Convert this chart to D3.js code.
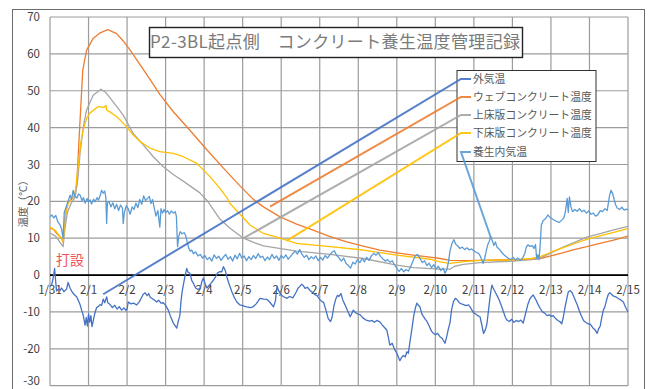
<!DOCTYPE html>
<html>
<head>
<meta charset="utf-8">
<script src="https://cdn.jsdelivr.net/npm/d3@7"></script>
<style>
  body { margin: 0; background: #fff; }
  svg { display: block; font-family: "Noto Sans CJK JP", "Noto Sans", sans-serif; }
</style>
</head>
<body>
<div id="chart"></div>
<script>
// time is in days from 1/31 0:00, values in °C

const dayLabels = ["1/31","2/1","2/2","2/3","2/4","2/5","2/6","2/7","2/8","2/9","2/10","2/11","2/12","2/13","2/14","2/15"]
const tempTicks = [-30,-20,-10,0,10,20,30,40,50,60,70]
const seriesNames = ["外気温","ウェブコンクリート温度","上床版コンクリート温度","下床版コンクリート温度","養生内気温"]
const seriesColors = ["#4472C4","#ED7D31","#A5A5A5","#FFC000","#5B9BD5"]

const outdoorTemp = [[0,-3],[0.04,-2.7],[0.08,-1],[0.12,1.8],[0.15,-2],[0.17,-4.3],[0.22,-3.8],[0.26,-4.2],[0.3,-3.5],[0.36,-4.5],[0.43,-3.8],[0.47,-2],[0.52,-3.5],[0.57,-4.5],[0.62,-5.2],[0.69,-5.9],[0.74,-7],[0.78,-8],[0.82,-9.5],[0.86,-10.8],[0.91,-13.6],[0.94,-11.5],[0.97,-13.8],[1.0,-10.5],[1.03,-12.8],[1.06,-11],[1.09,-14],[1.12,-12.5],[1.16,-10.5],[1.21,-8.8],[1.26,-8.5],[1.3,-8.0],[1.34,-8.2],[1.38,-6.5],[1.42,-7.5],[1.47,-5.9],[1.5,-7.5],[1.56,-8],[1.62,-8.8],[1.68,-8.2],[1.74,-9.2],[1.8,-8.6],[1.86,-9.5],[1.92,-8.9],[1.97,-9.6],[2.0,-9.2],[2.03,-7.3],[2.1,-7.8],[2.17,-7.6],[2.25,-8.1],[2.32,-7.2],[2.38,-6],[2.42,-5.2],[2.47,-4.8],[2.52,-5.6],[2.56,-5.0],[2.6,-6],[2.66,-6.4],[2.72,-6.9],[2.77,-7.3],[2.82,-6.8],[2.88,-7.6],[2.94,-7.5],[3.0,-8.2],[3.07,-9.5],[3.12,-11],[3.16,-12],[3.2,-13],[3.25,-13.8],[3.29,-14.4],[3.33,-12.5],[3.37,-11],[3.4,-7],[3.43,-4.5],[3.46,-2.7],[3.5,-0.5],[3.55,1.8],[3.58,0.8],[3.63,0.5],[3.68,-1.5],[3.72,-2.2],[3.78,-3.5],[3.84,-3.9],[3.9,-3.5],[3.94,-1.8],[3.98,-0.8],[4.03,-2.5],[4.07,-3.5],[4.12,-2.9],[4.18,-2.2],[4.24,-1.4],[4.3,-0.4],[4.35,0.6],[4.4,0.9],[4.46,0.9],[4.5,2.3],[4.55,1.2],[4.59,-0.5],[4.65,-2.5],[4.72,-4.5],[4.78,-6],[4.85,-7.3],[4.93,-8.1],[5.0,-8.3],[5.1,-8.6],[5.2,-8.8],[5.27,-8.6],[5.35,-7.8],[5.45,-6.3],[5.55,-6.5],[5.63,-6.6],[5.7,-7.3],[5.8,-8.6],[5.85,-7],[5.89,-3.2],[5.94,-4.3],[6.0,-5.4],[6.05,-5.8],[6.15,-6.3],[6.22,-5.8],[6.3,-6.2],[6.38,-4.8],[6.44,-3.5],[6.49,-3],[6.53,-2.5],[6.57,-2.8],[6.62,-3.6],[6.68,-3.3],[6.75,-4.2],[6.82,-4.8],[6.88,-5.3],[6.93,-5.6],[7.0,-6.6],[7.06,-7.2],[7.1,-7.4],[7.16,-9.5],[7.22,-11.8],[7.28,-12.6],[7.32,-11.5],[7.37,-8.3],[7.42,-6.4],[7.46,-5.5],[7.5,-5.8],[7.55,-5.0],[7.6,-6.8],[7.66,-8.2],[7.72,-9.6],[7.79,-11.3],[7.84,-10.2],[7.87,-9.5],[7.93,-10.2],[8.0,-10.6],[8.05,-10.8],[8.12,-11.6],[8.2,-12.2],[8.3,-12.5],[8.36,-12.3],[8.42,-12.8],[8.48,-12.3],[8.56,-12.7],[8.62,-13.5],[8.68,-14.2],[8.74,-14.9],[8.78,-16.8],[8.82,-19],[8.88,-18.5],[8.95,-20.3],[9.0,-21.2],[9.04,-22.2],[9.08,-23.2],[9.12,-22.4],[9.17,-21.8],[9.22,-22.2],[9.26,-20.8],[9.3,-21.2],[9.35,-17.5],[9.39,-14.8],[9.44,-11],[9.48,-9],[9.52,-7.6],[9.56,-8.2],[9.6,-8.6],[9.65,-10.5],[9.69,-11.2],[9.74,-12.0],[9.78,-12.5],[9.84,-13.8],[9.9,-15.2],[9.95,-15.8],[10.0,-16.2],[10.06,-15.8],[10.12,-16.7],[10.18,-17.2],[10.25,-18.5],[10.3,-16.5],[10.34,-14.5],[10.38,-13],[10.42,-9.5],[10.47,-7.2],[10.52,-6.3],[10.56,-6.6],[10.62,-7.5],[10.68,-7.8],[10.73,-8.0],[10.8,-8.3],[10.86,-8.1],[10.9,-8.6],[10.95,-9.5],[10.99,-10.2],[11.04,-10.5],[11.1,-11],[11.16,-11.3],[11.2,-13.2],[11.25,-15.8],[11.3,-14.8],[11.34,-13.2],[11.38,-9.5],[11.42,-6],[11.45,-3.8],[11.47,-2.7],[11.5,-3.5],[11.55,-4.5],[11.6,-5.5],[11.66,-6.8],[11.72,-8.5],[11.77,-10],[11.82,-11.5],[11.86,-12.2],[11.92,-12.6],[11.98,-12.0],[12.04,-12.8],[12.1,-12.3],[12.16,-12.6],[12.22,-12.2],[12.28,-13],[12.34,-10.5],[12.4,-8],[12.46,-6.3],[12.5,-5.8],[12.54,-5.4],[12.6,-6.5],[12.66,-7.8],[12.72,-9],[12.78,-10],[12.84,-10.3],[12.9,-11],[12.96,-10.8],[13.02,-11.2],[13.06,-11],[13.12,-11.8],[13.18,-12.3],[13.24,-12.7],[13.28,-13.2],[13.32,-11.5],[13.37,-8.5],[13.42,-6],[13.45,-4.6],[13.5,-4.2],[13.55,-4.8],[13.6,-6],[13.64,-7],[13.68,-8],[13.74,-9.8],[13.8,-11.3],[13.85,-12.4],[13.9,-12.8],[13.96,-13.2],[14.02,-13.3],[14.08,-14.2],[14.14,-14.8],[14.2,-15.8],[14.24,-14.5],[14.28,-13.8],[14.32,-11.5],[14.36,-9.5],[14.4,-8.6],[14.45,-6.5],[14.49,-5.2],[14.53,-4.8],[14.58,-5.3],[14.64,-5.8],[14.7,-6.0],[14.76,-6.4],[14.82,-6.8],[14.88,-7.3],[14.92,-8.3],[14.96,-9.2],[15,-10]]

const webTemp = [[0,12.8],[0.1,12.3],[0.2,11.0],[0.3,10.0],[0.34,9.0],[0.38,14],[0.42,18],[0.47,19.8],[0.55,20.5],[0.64,21.5],[0.69,24],[0.72,30],[0.75,36],[0.78,42],[0.85,55.6],[0.95,61],[1.12,64.2],[1.3,65.7],[1.5,66.6],[1.73,65.5],[1.9,63.5],[2.08,61],[2.34,57],[2.6,53],[2.85,49],[3.2,44.3],[3.63,39.3],[4.07,34],[4.5,29],[4.93,24.2],[5.27,20.6],[5.54,18.5],[5.97,15.8],[6.4,13.8],[6.83,12.2],[7.25,10.5],[7.7,9.0],[8.1,7.9],[8.56,6.8],[9.0,6.0],[9.43,5.4],[9.86,4.9],[10.12,4.5],[10.38,4.0],[10.8,3.9],[11.2,4.0],[11.6,4.1],[12.2,4.2],[12.5,4.3],[12.72,4.5],[13.0,5.2],[13.3,6.0],[13.6,6.9],[13.93,7.7],[14.3,8.7],[14.6,9.4],[15,10.6]]

const upperSlabTemp = [[0,11.4],[0.15,10.5],[0.25,9],[0.34,7.7],[0.38,12],[0.45,17],[0.55,19.5],[0.65,21],[0.72,26],[0.78,33],[0.86,40],[0.95,44.8],[1.12,48.8],[1.32,50.4],[1.45,49.5],[1.64,47],[1.9,43.4],[2.16,38.4],[2.42,35.3],[2.68,32.1],[2.94,29.4],[3.2,27.3],[3.55,24.8],[3.89,22.3],[4.07,20.3],[4.41,15.2],[4.67,12.7],[5.02,10],[5.3,8.8],[5.54,7.9],[6.4,6.5],[7.27,5.6],[8.13,4.5],[9.0,2.7],[9.43,2.0],[10.12,1.6],[10.38,1.6],[10.5,2.4],[10.73,2.9],[11.16,3.4],[12.03,3.8],[12.5,4.2],[12.72,4.6],[13.0,6.0],[13.3,7.5],[13.6,8.8],[13.93,10.3],[14.3,11.3],[14.6,12.2],[15,13.2]]

const lowerSlabTemp = [[0,13],[0.15,12],[0.25,10.5],[0.34,9.2],[0.4,16],[0.47,19.5],[0.6,21],[0.66,23],[0.73,29.4],[0.8,36],[0.86,39.3],[0.95,42.5],[1.04,44],[1.25,45.7],[1.4,45.5],[1.45,46],[1.47,44.8],[1.73,43],[1.99,40.2],[2.16,38],[2.34,36.2],[2.6,34.4],[2.85,33.5],[3.2,33],[3.46,32.1],[3.81,30.3],[4.15,26.7],[4.41,23.5],[4.59,21],[4.67,19.4],[4.93,16.5],[5.19,13.6],[5.54,11.3],[5.97,10],[6.4,8.6],[7.27,7.7],[8.13,6.8],[9.0,5.4],[9.86,4.3],[10.12,3.6],[10.38,3.2],[10.8,3.7],[11.16,4.0],[12.03,4.1],[12.5,4.5],[12.72,5.0],[13.0,6.2],[13.3,7.4],[13.6,8.5],[13.93,9.7],[14.3,10.7],[14.6,11.5],[15,12.6]]

const curingAirTemp = [[0,15.8],[0.05,16.3],[0.1,15.5],[0.15,16.2],[0.2,14.5],[0.26,13.6],[0.3,12.5],[0.34,10],[0.37,17],[0.42,18.5],[0.47,20],[0.52,21.7],[0.56,20.5],[0.6,23],[0.64,21.5],[0.7,20.9],[0.74,22],[0.78,21.7],[0.83,20.2],[0.87,21],[0.91,19.5],[0.96,20.8],[1.0,19.8],[1.04,20.4],[1.08,19.3],[1.13,20.6],[1.17,19.9],[1.22,21],[1.26,20.3],[1.3,21.5],[1.34,23],[1.38,22.2],[1.42,22.8],[1.45,21],[1.47,14],[1.49,19.5],[1.53,20],[1.58,18.5],[1.63,19.6],[1.68,18],[1.73,19.2],[1.78,17.5],[1.83,19],[1.88,18.2],[1.9,14],[1.93,17],[1.98,18.8],[2.03,18],[2.08,16.5],[2.13,18.5],[2.18,17.8],[2.23,19.5],[2.28,18.3],[2.33,20.5],[2.38,19.2],[2.43,21.5],[2.48,20.2],[2.53,20.8],[2.58,21.3],[2.62,19.4],[2.66,20.5],[2.7,18.5],[2.75,16],[2.8,17.5],[2.85,13],[2.88,18],[2.92,16.8],[2.96,17.8],[3.0,16.9],[3.05,17.5],[3.1,16.5],[3.15,17.4],[3.2,16.8],[3.25,17.2],[3.28,16],[3.31,7.7],[3.34,10.5],[3.38,11.8],[3.43,11.2],[3.48,11.5],[3.52,10.8],[3.56,9],[3.6,7.3],[3.64,6.5],[3.68,6.8],[3.72,5.8],[3.78,6.3],[3.84,5.2],[3.9,5.6],[3.96,4.6],[4.02,5.3],[4.08,4.2],[4.14,4.8],[4.2,3.8],[4.26,5.5],[4.32,4.5],[4.38,5.1],[4.44,4.0],[4.5,4.9],[4.56,5.6],[4.62,4.3],[4.68,5.0],[4.74,3.8],[4.8,5.4],[4.86,4.4],[4.92,5.9],[4.98,4.6],[5.04,5.2],[5.1,3.9],[5.16,5.0],[5.22,4.2],[5.28,5.3],[5.34,4.5],[5.4,5.8],[5.46,4.8],[5.52,5.1],[5.58,3.9],[5.64,4.9],[5.7,4.2],[5.76,5.6],[5.82,4.5],[5.88,5.2],[5.94,4.0],[6.0,5.3],[6.06,4.6],[6.12,5.5],[6.18,4.3],[6.24,5.0],[6.3,5.8],[6.36,6.5],[6.42,5.7],[6.48,6.9],[6.54,5.6],[6.6,4.8],[6.66,5.4],[6.72,4.2],[6.78,5.0],[6.84,4.4],[6.9,5.2],[6.96,3.9],[7.02,4.8],[7.08,4.1],[7.14,5.3],[7.2,4.6],[7.26,5.5],[7.32,6.2],[7.38,6.6],[7.44,5.3],[7.5,4.7],[7.56,3.8],[7.62,4.6],[7.68,3.2],[7.74,2.6],[7.8,1.9],[7.86,3.5],[7.92,3.0],[7.98,4.2],[8.04,3.4],[8.1,4.5],[8.16,3.6],[8.22,4.8],[8.28,4.0],[8.34,5.2],[8.4,5.9],[8.46,5.4],[8.52,6.1],[8.58,5.0],[8.64,4.4],[8.7,3.8],[8.76,4.2],[8.82,3.5],[8.88,3.9],[8.94,2.8],[9.0,1.8],[9.06,1.0],[9.12,1.8],[9.18,0.9],[9.24,1.5],[9.3,1.1],[9.36,2.3],[9.42,3.8],[9.48,5.2],[9.54,5.6],[9.6,4.6],[9.66,3.4],[9.72,3.9],[9.78,2.6],[9.84,3.2],[9.9,2.0],[9.96,2.8],[10.02,1.6],[10.08,2.4],[10.14,1.2],[10.2,1.9],[10.25,0.5],[10.3,1.5],[10.34,3.5],[10.38,6.5],[10.43,8.5],[10.48,9.6],[10.53,8.4],[10.58,7.9],[10.64,7.2],[10.7,7.6],[10.76,6.9],[10.82,7.4],[10.88,6.8],[10.94,7.1],[11.0,6.6],[11.06,6.2],[11.12,5.9],[11.16,5.3],[11.2,4.2],[11.24,3.2],[11.28,4.5],[11.32,6.5],[11.36,8.2],[11.4,9.2],[11.44,10.4],[11.48,9.3],[11.52,8.0],[11.56,9.0],[11.6,7.6],[11.66,7.0],[11.72,6.2],[11.78,5.5],[11.84,5.0],[11.9,4.5],[11.96,4.2],[12.02,4.8],[12.08,4.1],[12.14,4.6],[12.2,4.0],[12.26,4.5],[12.32,5.8],[12.36,7.5],[12.4,8.2],[12.46,7.8],[12.52,8.0],[12.56,7.2],[12.6,8.3],[12.63,4.5],[12.66,5.5],[12.69,4.2],[12.72,8],[12.75,13.5],[12.8,14.8],[12.86,15.3],[12.92,16.3],[12.98,15.6],[13.04,15.2],[13.1,14.8],[13.16,14.5],[13.22,14.3],[13.28,14.9],[13.34,15.6],[13.38,17.5],[13.42,20.8],[13.45,17],[13.48,21.2],[13.52,18.5],[13.56,17.2],[13.62,17.8],[13.68,17.3],[13.74,18.0],[13.8,17.2],[13.86,17.6],[13.92,16.8],[13.98,17.4],[14.04,16.5],[14.1,16.8],[14.16,16.0],[14.22,16.4],[14.28,17.5],[14.34,17.2],[14.4,18],[14.46,17.5],[14.52,21.5],[14.56,23],[14.6,22.2],[14.64,20.5],[14.68,19.0],[14.72,18.2],[14.78,17.8],[14.84,18.4],[14.9,17.6],[14.96,17.9],[15,17.7]]

// where each series-name label's leader line touches its series
const labelAnchors = [[1.38,-5.2],[5.71,18.6],[5.02,10],[6.14,9.3],[11.44,10.2]]

const width = 648
const height = 389

const svg = d3.select("#chart")
  .append("svg")
  .attr("width", width)
  .attr("height", height)

// outer chart frame
svg.append("rect")
  .attr("x", 12.5).attr("y", 9.5)
  .attr("width", 632).attr("height", 400)
  .attr("fill", "none")
  .attr("stroke", "#6b6b6b")
  .attr("stroke-width", 1)

const x = d3.scaleLinear().domain([0, 15]).range([50, 628])
const y = d3.scaleLinear().domain([-30, 70]).range([385.7, 17])

// gridlines
const grid = svg.append("g")
grid.selectAll(".hgrid").data(tempTicks).enter().append("line")
  .attr("x1", x(0)).attr("x2", x(15))
  .attr("y1", d => y(d)).attr("y2", d => y(d))
  .attr("stroke", "#9c9c9c")
  .attr("stroke-width", 1.2)
grid.selectAll(".vgrid").data(dayLabels).enter().append("line")
  .attr("x1", (d, i) => x(i)).attr("x2", (d, i) => x(i))
  .attr("y1", y(70)).attr("y2", y(-30))
  .attr("stroke", "#9c9c9c")
  .attr("stroke-width", 1.2)

// zero line
svg.append("line")
  .attr("x1", x(0)).attr("x2", x(15))
  .attr("y1", y(0)).attr("y2", y(0))
  .attr("stroke", "#000")
  .attr("stroke-width", 1.6)

// y tick labels (the lowest one is nudged up so it stays inside the picture)
svg.append("g").selectAll("text").data(tempTicks).enter().append("text")
  .attr("x", 40)
  .attr("y", d => Math.min(y(d), 381))
  .attr("dy", "0.35em")
  .attr("text-anchor", "end")
  .attr("font-size", 11.5)
  .attr("fill", "#404040")
  .text(d => d)

// x tick labels sit just under the zero line
svg.append("g").selectAll("text").data(dayLabels).enter().append("text")
  .attr("x", (d, i) => x(i))
  .attr("y", y(0) + 15)
  .attr("dy", "0.35em")
  .attr("text-anchor", "middle")
  .attr("font-size", 11.5)
  .attr("fill", "#404040")
  .text(d => d)

// y axis title
svg.append("text")
  .attr("transform", `translate(23, ${(y(70) + y(-30)) / 2}) rotate(-90)`)
  .attr("text-anchor", "middle")
  .attr("dy", "0.35em")
  .attr("font-size", 10.5)
  .attr("fill", "#595959")
  .text("温度（℃）")

// series
const line = d3.line().x(d => x(d[0])).y(d => y(d[1]))
const allSeries = [outdoorTemp, webTemp, upperSlabTemp, lowerSlabTemp, curingAirTemp]
svg.append("g").selectAll("path").data(allSeries).enter().append("path")
  .attr("d", line)
  .attr("fill", "none")
  .attr("stroke", (d, i) => seriesColors[i])
  .attr("stroke-width", 1.3)
  .attr("stroke-linejoin", "round")

// pour marker
svg.append("text")
  .attr("x", x(0.52)).attr("y", y(4))
  .attr("dy", "0.35em")
  .attr("text-anchor", "middle")
  .attr("font-size", 14)
  .attr("fill", "#f0505a")
  .text("打設")

// title box
svg.append("rect")
  .attr("x", 149.5).attr("y", 27.5)
  .attr("width", 373).attr("height", 30)
  .attr("fill", "#fff")
  .attr("stroke", "#222")
  .attr("stroke-width", 1.4)
svg.append("text")
  .attr("x", 150).attr("y", 42.5)
  .attr("dy", "0.35em")
  .attr("font-size", 17)
  .attr("fill", "#7a7a7a")
  .attr("textLength", 370)
  .text("P2-3BL起点側　コンクリート養生温度管理記録")

// series-name labels with leader lines
const labelY = [79, 97, 115, 133, 152]
svg.append("rect")
  .attr("x", 457).attr("y", 70.5)
  .attr("width", 139).attr("height", 91)
  .attr("fill", "#fff")
  .attr("stroke", "#333")
  .attr("stroke-width", 1)

const leaders = svg.append("g")
leaders.selectAll("path").data(labelAnchors).enter().append("path")
  .attr("d", (d, i) => `M${x(d[0])},${y(d[1])}L461,${labelY[i]}L471,${labelY[i]}`)
  .attr("fill", "none")
  .attr("stroke", (d, i) => seriesColors[i])
  .attr("stroke-width", 2)
  .attr("stroke-opacity", 0.9)

svg.append("g").selectAll("text").data(seriesNames).enter().append("text")
  .attr("x", 473)
  .attr("y", (d, i) => labelY[i])
  .attr("dy", "0.35em")
  .attr("font-size", 10.8)
  .attr("fill", "#595959")
  .text(d => d)
</script>
</body>
</html>
